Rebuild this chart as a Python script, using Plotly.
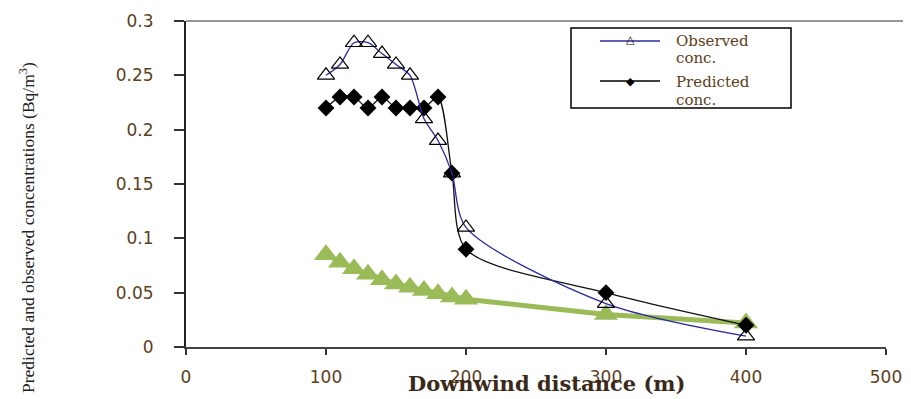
import plotly.graph_objects as go

# Data
obs_x = [100, 110, 120, 130, 140, 150, 160, 170, 180, 190, 200, 300, 400]
obs_y = [0.25, 0.26, 0.28, 0.28, 0.27, 0.26, 0.25, 0.21, 0.19, 0.16, 0.11, 0.04, 0.01]
pred_x = [100, 110, 120, 130, 140, 150, 160, 170, 180, 190, 200, 300, 400]
pred_y = [0.22, 0.23, 0.23, 0.22, 0.23, 0.22, 0.22, 0.22, 0.23, 0.16, 0.09, 0.05, 0.02]
green_x = [100, 110, 120, 130, 140, 150, 160, 170, 180, 190, 200, 300, 400]
green_y = [0.085, 0.078, 0.072, 0.067, 0.062, 0.058, 0.055, 0.052, 0.049, 0.046, 0.044, 0.030, 0.022]

x_ticks = [0, 100, 200, 300, 400, 500]
y_ticks = [0, 0.05, 0.1, 0.15, 0.2, 0.25, 0.3]
y_tick_text = ["0", "0.05", "0.1", "0.15", "0.2", "0.25", "0.3"]

tick_color = "#5c4020"
serif = "DejaVu Serif, serif"
narrow_serif = "Liberation Serif, Times New Roman, serif"
blue = "#2a2aa0"

fig = go.Figure()

fig.add_trace(go.Scatter(
    x=green_x, y=green_y, mode="lines+markers", showlegend=False,
    line=dict(color="#9BBB59", width=5),
    marker=dict(symbol="triangle-up", size=21, color="#9BBB59"),
))
fig.add_trace(go.Scatter(
    x=pred_x, y=pred_y, mode="lines+markers", showlegend=False,
    line=dict(color="#111111", width=1.3, shape="spline", smoothing=0.8),
    marker=dict(symbol="diamond", size=13, color="#000000"),
))
fig.add_trace(go.Scatter(
    x=obs_x, y=obs_y, mode="lines+markers", showlegend=False,
    line=dict(color=blue, width=1.3, shape="spline", smoothing=0.8),
    marker=dict(symbol="triangle-up-open", size=15, color="#000000",
                line=dict(width=1.2, color="#000000")),
))

# Screen-pixel helpers (plot area: x 186..886, y 21..347 on the page)
def px(x):
    return (x - 186) / 700.0

def py(y):
    return (347 - y) / 326.0

shapes = [
    dict(type="line", xref="paper", yref="paper", x0=0, x1=1.03, y0=1, y1=1,
         line=dict(color="#999999", width=2)),
    dict(type="rect", xref="paper", yref="paper", x0=px(571), x1=px(791),
         y0=py(108), y1=py(28), line=dict(color="#000000", width=1.5),
         fillcolor="white"),
    dict(type="line", xref="paper", yref="paper", x0=px(600), x1=px(660),
         y0=py(41), y1=py(41), line=dict(color=blue, width=1.5)),
    dict(type="line", xref="paper", yref="paper", x0=px(600), x1=px(660),
         y0=py(81), y1=py(81), line=dict(color="#000000", width=1.5)),
]

def label(text, x, y, size=15, family=serif, color=tick_color):
    return dict(text=text, xref="paper", yref="paper", x=px(x), y=py(y),
                xanchor="left", yanchor="middle", showarrow=False,
                font=dict(family=family, size=size, color=color))

annotations = [
    label("Observed", 674, 41),
    label("conc.", 674, 58),
    label("Predicted", 674, 82),
    label("conc.", 674, 100),
    dict(text="△", xref="paper", yref="paper", x=px(630), y=py(39.5),
         xanchor="center", yanchor="middle", showarrow=False,
         font=dict(family="DejaVu Sans", size=11, color="#000000")),
    dict(text="◆", xref="paper", yref="paper", x=px(630), y=py(81),
         xanchor="center", yanchor="middle", showarrow=False,
         font=dict(family="DejaVu Sans", size=11, color="#000000")),
    dict(text="<b>Downwind distance (m)</b>", xref="paper", yref="paper",
         x=px(547), y=py(383), xanchor="center", yanchor="middle", showarrow=False,
         font=dict(family=serif, size=21, color="#3b2a1a")),
    dict(text="Predicted and observed concentrations (Bq/m<sup>3</sup>)",
         xref="paper", yref="paper", x=px(27), y=py(228), textangle=-90,
         xanchor="center", yanchor="middle", showarrow=False,
         font=dict(family=narrow_serif, size=17.5, color="#222222")),
]

# The page body adds an 8px offset, so the figure is 8px smaller than the window
fig.update_layout(
    width=903, height=391,
    margin=dict(l=178, r=25, t=13, b=52, autoexpand=False),
    paper_bgcolor="white", plot_bgcolor="white",
    showlegend=False,
    xaxis=dict(
        range=[0, 500], tickvals=x_ticks, ticktext=[str(v) for v in x_ticks],
        showgrid=False, zeroline=False, showline=True, linecolor="#444444", linewidth=2,
        ticks="outside", ticklen=6, tickwidth=2, tickcolor="#333333",
        tickfont=dict(family="DejaVu Sans, Verdana, sans-serif", size=17, color=tick_color),
        ticklabelstandoff=8, automargin=False,
    ),
    yaxis=dict(
        range=[0, 0.3], tickvals=y_ticks, ticktext=y_tick_text,
        showgrid=False, zeroline=False, showline=True, linecolor="#222222", linewidth=2,
        ticks="outside", ticklen=10, tickwidth=1.5, tickcolor="#333333",
        tickfont=dict(family="DejaVu Sans, Verdana, sans-serif", size=17, color=tick_color),
        ticklabelstandoff=17, automargin=False,
    ),
    shapes=shapes,
    annotations=annotations,
)

fig.write_html("out.html")
